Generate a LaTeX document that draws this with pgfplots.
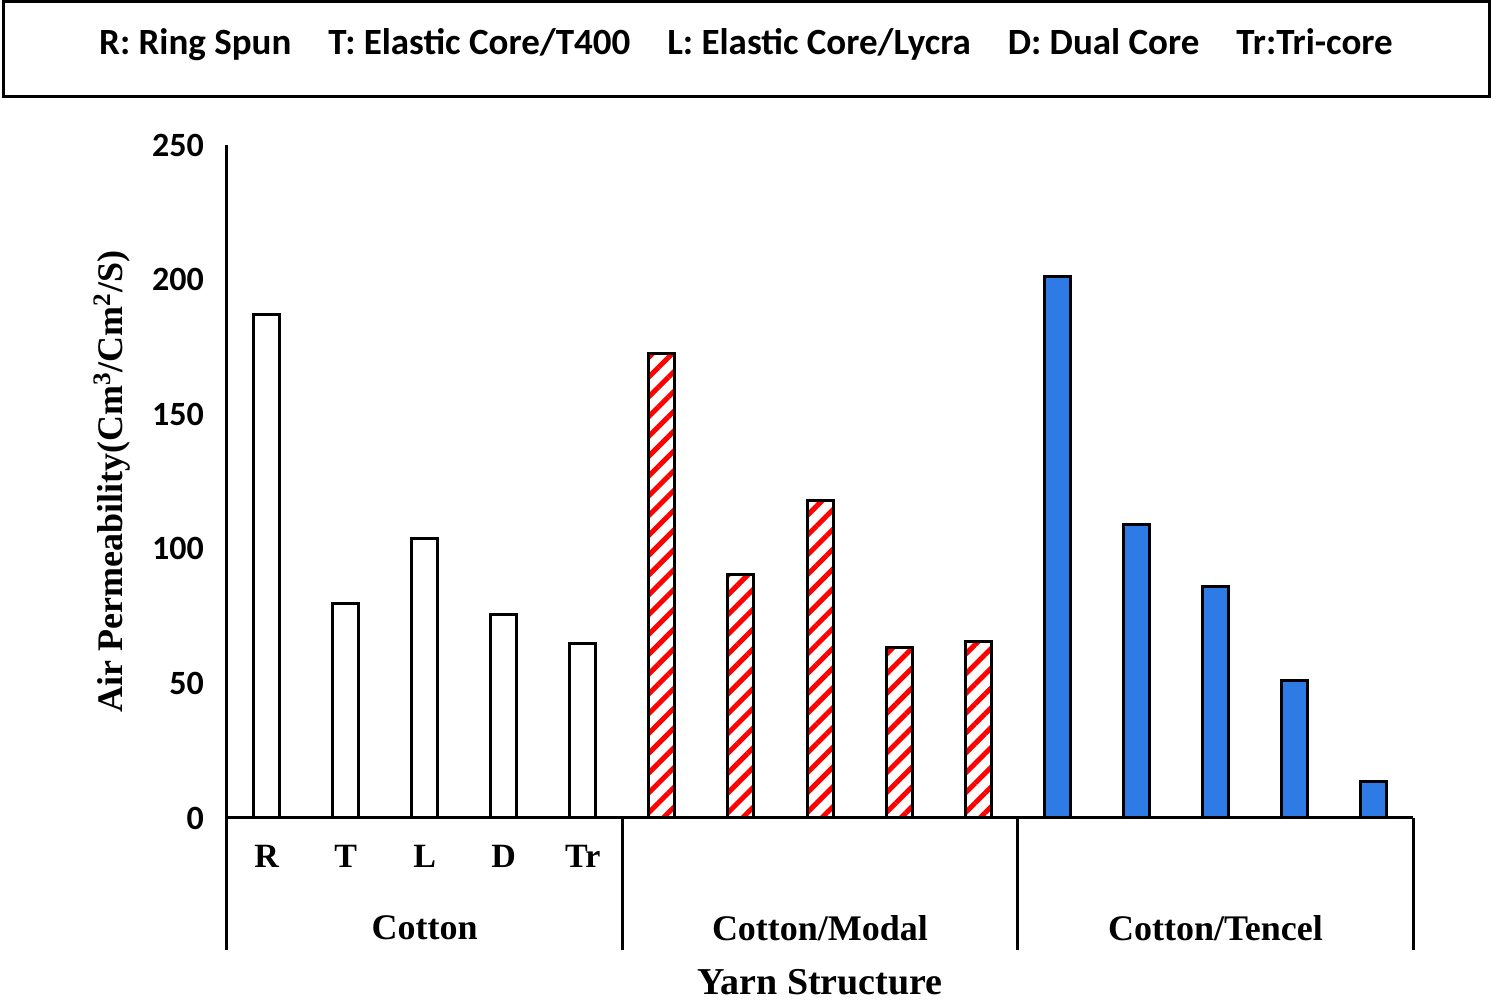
\documentclass[border=0pt]{standalone}
\usepackage{pgfplots}
\pgfplotsset{compat=1.18}
\usetikzlibrary{patterns.meta}
\usepackage{fontspec}
\setmainfont{Liberation Serif}
\newfontfamily\calfont{Carlito}
\definecolor{barblue}{RGB}{46,123,230}
\begin{document}
\begin{tikzpicture}
\useasboundingbox (-113.5pt,-94pt) rectangle (636.5pt,409pt);
\begin{axis}[at={(0,0)},anchor=south west,scale only axis,
  width=593pt,height=336.5pt,
  xmin=-0.5,xmax=14.5,ymin=0,ymax=250,
  axis lines=left, axis line style={line width=1.5pt,-},
  xtick=data,xticklabels={R,T,L,D,Tr,R,T,L,D,Tr,R,T,L,D,Tr},
  xticklabel style={font=\fontsize{17}{20}\selectfont\bfseries,yshift=-10pt},
  major tick length=0pt,
  ytick={0,50,...,250},
  yticklabel style={font=\calfont\fontsize{17}{20}\selectfont\bfseries,xshift=-8pt},
  /pgf/number format/assume math mode=true,
  ylabel={\bfseries Air Permeability(Cm\textsuperscript{3}/Cm\textsuperscript{2}/S)},
  ylabel style={font=\fontsize{18}{20}\selectfont,yshift=4pt},
  ybar,bar width=13pt,clip=false]
\addplot[draw=black,line width=1.5pt,fill=white,bar shift=0pt] coordinates {(0,187)(1,79.5)(2,104)(3,75.5)(4,65)};
\addplot[draw=black,line width=1.5pt,pattern={Lines[angle=45,distance=7pt,line width=2.5pt]},pattern color=red,bar shift=0pt] coordinates {(5,172.5)(6,90.5)(7,118)(8,63.5)(9,65.5)};
\addplot[draw=black,line width=1.5pt,fill=barblue,bar shift=0pt] coordinates {(10,201)(11,109)(12,86)(13,51)(14,13.7)};
\end{axis}
\begin{scope}[line width=1.5pt]
\draw (0,0) -- (0,-66pt);
\draw (197.67pt,0) -- (197.67pt,-66pt);
\draw (395.33pt,0) -- (395.33pt,-66pt);
\draw (593pt,0) -- (593pt,-66pt);
\end{scope}
\begin{scope}[font=\fontsize{18}{20}\selectfont\bfseries]
\node at (98.8pt,-55pt) {Cotton};
\node at (296.5pt,-55pt) {Cotton/Modal};
\node at (494.2pt,-55pt) {Cotton/Tencel};
\node at (296.5pt,-82pt) {\fontsize{19}{20}\selectfont Yarn Structure};
\end{scope}
\draw[line width=1.5pt] (-111.5pt,360.5pt) rectangle (631pt,408pt);
\node[font=\calfont\fontsize{18.5}{20}\selectfont\bfseries] at (259.5pt,386.5pt)
 {R: Ring Spun\quad T: Elastic Core/T400\quad L: Elastic Core/Lycra\quad D: Dual Core\quad Tr:Tri-core};
\end{tikzpicture}
\end{document}
